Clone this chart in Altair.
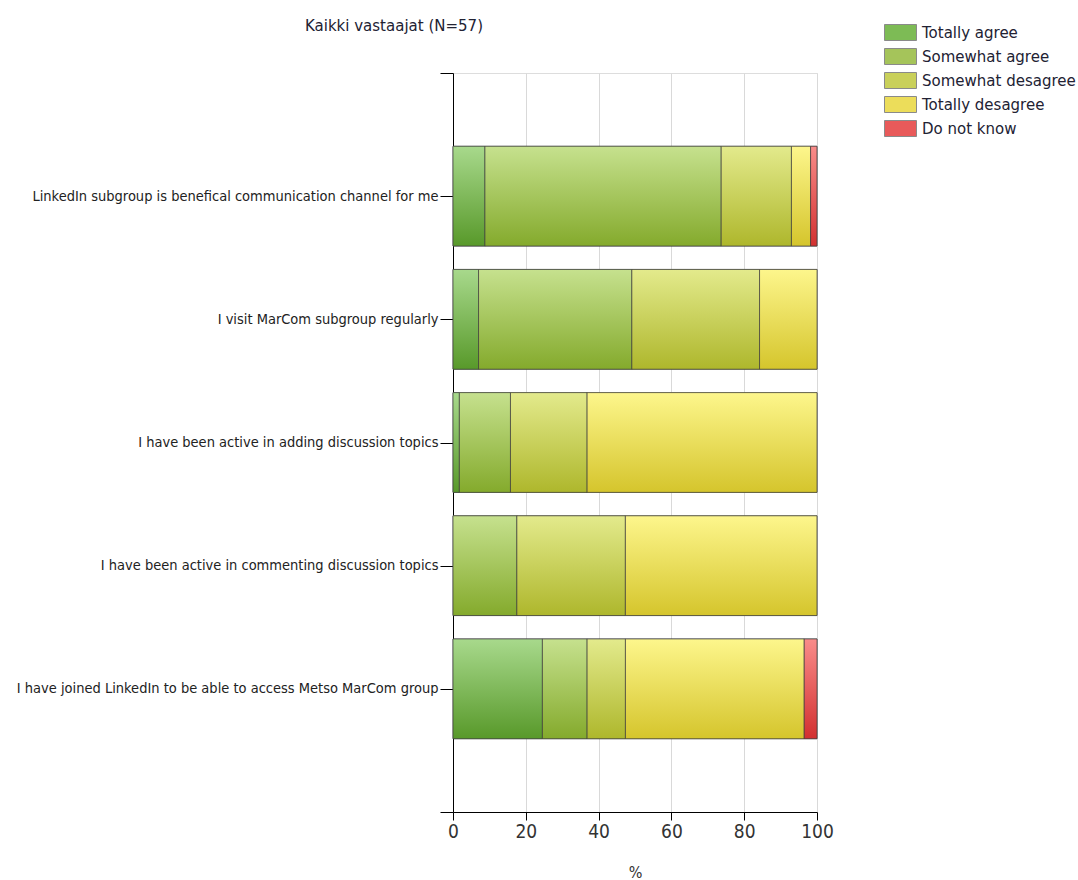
import json
import altair as alt
import pandas as pd

questions = [
    "LinkedIn subgroup is benefical communication channel for me",
    "I visit MarCom subgroup regularly",
    "I have been active in adding discussion topics",
    "I have been active in commenting discussion topics",
    "I have joined LinkedIn to be able to access Metso MarCom group",
]
categories = ["Totally agree", "Somewhat agree", "Somewhat desagree", "Totally desagree", "Do not know"]
totally_agree = [8.77, 7.02, 1.75, 0.0, 24.56]
somewhat_agree = [64.91, 42.11, 14.04, 17.54, 12.28]
somewhat_desagree = [19.30, 35.09, 21.05, 29.82, 10.53]
totally_desagree = [5.26, 15.79, 63.16, 52.63, 49.12]
do_not_know = [1.75, 0.0, 0.0, 0.0, 3.51]

mid_colors = ["#7dbb55", "#a5c45a", "#c9d05a", "#ecdd5a", "#e85a5a"]
top_colors = ["#a8d98c", "#c6e18e", "#e3ea8c", "#fdf68c", "#f98c8a"]
bottom_colors = ["#58992a", "#84aa2c", "#aeb72c", "#d5c52c", "#d23030"]

series = [totally_agree, somewhat_agree, somewhat_desagree, totally_desagree, do_not_know]
rows = []
for qi, q in enumerate(questions):
    start = 0.0
    for ci, cat in enumerate(categories):
        v = series[ci][qi]
        rows.append({
            "question": q,
            "pos_lo": qi + 1 - 0.405,
            "pos_hi": qi + 1 + 0.405,
            "category": cat,
            "start": start,
            "end": start + v,
            "value": v,
        })
        start += v
df = pd.DataFrame(rows)
df = df[df["value"] > 0]

label_array = json.dumps([""] + questions + [""])
narrow = "DejaVu Sans Condensed"

x_enc = alt.X(
    "start:Q",
    scale=alt.Scale(domain=[0, 100], nice=False, zero=True),
    axis=alt.Axis(
        values=[0, 20, 40, 60, 80, 100], grid=True, gridColor="#d9d9d9",
        domainColor="#000000", tickColor="#000000", tickSize=8,
        labelFont=narrow, labelFontSize=19, labelColor="#333333", labelPadding=2,
        labelFlush=False,
        title="%", titleFont=narrow, titleFontSize=16, titleFontWeight="normal",
        titleColor="#333333", titlePadding=23,
    ),
)
y_enc = alt.Y(
    "pos_lo:Q",
    scale=alt.Scale(domain=[0, 6], reverse=True, nice=False, zero=False),
    axis=alt.Axis(
        values=[0, 1, 2, 3, 4, 5, 6], grid=False, domainColor="#000000",
        tickColor="#000000", tickSize=13, labelFont=narrow, labelFontSize=14.5,
        labelColor="#222222", labelPadding=2, labelLimit=0, title=None,
        labelExpr=f"{label_array}[datum.value]",
    ),
)

base = alt.Chart(df).mark_bar(stroke="#404040", strokeWidth=1, strokeOpacity=0.7).encode(
    x=x_enc,
    x2="end:Q",
    y=y_enc,
    y2="pos_hi:Q",
    color=alt.Color(
        "category:N",
        scale=alt.Scale(domain=categories, range=mid_colors),
        legend=alt.Legend(
            title=None, orient="none", legendX=439, legendY=-49,
            symbolType="M-2,-1H2V1H-2Z", symbolSize=256,
            symbolStrokeColor="#8a8a8a", symbolStrokeWidth=1, symbolOpacity=1,
            labelFont="DejaVu Sans", labelFontSize=15, labelColor="#222233",
            labelOffset=13, rowPadding=3,
        ),
    ),
)

layers = [base]
for ci, cat in enumerate(categories):
    grad = alt.Gradient(
        gradient="linear", x1=0, x2=0, y1=0, y2=1,
        stops=[alt.GradientStop(color=top_colors[ci], offset=0),
               alt.GradientStop(color=bottom_colors[ci], offset=1)],
    )
    layers.append(
        alt.Chart(df).transform_filter(alt.datum.category == cat)
        .mark_bar(color=grad, stroke="#404040", strokeWidth=1, strokeOpacity=0.7)
        .encode(x="start:Q", x2="end:Q", y="pos_lo:Q", y2="pos_hi:Q")
    )

chart = alt.layer(*layers).properties(
    width=364, height=739,
    title=alt.TitleParams(
        "Kaikki vastaajat (N=57)", anchor="start", frame="group", dx=-148, offset=-10,
        font="DejaVu Sans", fontSize=15, fontWeight="normal", color="#222233",
    ),
    autosize=alt.AutoSizeParams(type="none"),
    padding={"left": 453, "top": 73, "right": 261, "bottom": 68},
).configure_view(stroke="#98a4b6", strokeWidth=1).configure(background="white")

chart.save("out.html", embed_options={"renderer": "svg", "actions": False})
